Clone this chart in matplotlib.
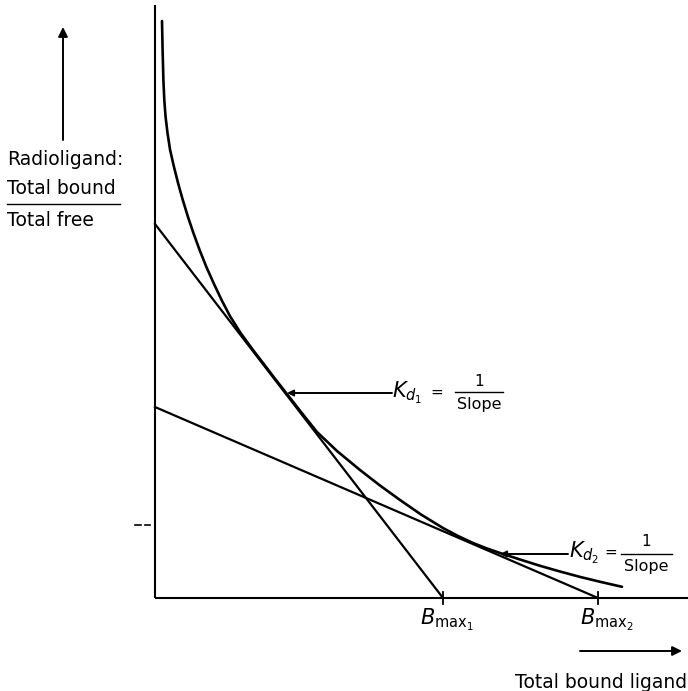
import matplotlib
matplotlib.use("Agg")
import matplotlib.pyplot as plt

plt.rcParams['font.family'] = ['DejaVu Sans']
plt.rcParams['mathtext.fontset'] = 'dejavusans'

# ---- data (arbitrary units: bound ligand vs bound/free) ----
bmax1 = 2.88          # x-intercept of high-affinity line
bmax2 = 4.43          # x-intercept of low-affinity line
intercept1 = 3.74     # y-intercept of high-affinity line
intercept2 = 1.91     # y-intercept of low-affinity line
line1_x = [0.0, bmax1]
line1_y = [intercept1, 0.0]
line2_x = [0.0, bmax2]
line2_y = [intercept2, 0.0]

curve_x = [0.070, 0.076, 0.084, 0.093, 0.106, 0.125, 0.151, 0.190, 0.233, 0.278,
           0.330, 0.384, 0.446, 0.514, 0.590, 0.666, 0.749, 0.856, 0.980, 1.103,
           1.210, 1.312, 1.468, 1.620, 1.82, 2.05, 2.25, 2.45, 2.66, 2.88,
           3.03, 3.18, 3.32, 3.45, 3.65, 3.85, 4.05, 4.25, 4.46, 4.67]
curve_y = [5.77, 5.48, 5.18, 4.98, 4.81, 4.65, 4.48, 4.31, 4.14, 3.98,
           3.81, 3.65, 3.48, 3.31, 3.14, 2.98, 2.82, 2.65, 2.48, 2.32,
           2.18, 2.05, 1.85, 1.66, 1.47, 1.28, 1.125, 0.98, 0.835, 0.70,
           0.62, 0.55, 0.495, 0.45, 0.385, 0.322, 0.265, 0.211, 0.16, 0.112]

kd1_point = (1.32, 2.05)
kd2_point = (3.45, 0.44)

y_axis_top = 5.93
x_axis_right = 5.33

fig = plt.figure(figsize=(6.88, 6.91), dpi=100)
ax = fig.add_axes([0, 0, 1, 1])
ax.set_xlim(-1.55, 5.33)
ax.set_ylim(-0.93, 5.98)
ax.axis('off')

lw = 1.5
# axes
ax.plot([0, 0], [0, y_axis_top], color='black', lw=lw, solid_capstyle='butt')
ax.plot([0, x_axis_right], [0, 0], color='black', lw=lw, solid_capstyle='butt')

# binding curve
ax.plot(curve_x, curve_y, color='black', lw=1.9, solid_joinstyle='round',
        solid_capstyle='round')

# component lines
ax.plot(line1_x, line1_y, color='black', lw=1.6)
ax.plot(line2_x, line2_y, color='black', lw=1.6)

# Bmax ticks
for b in (bmax1, bmax2):
    ax.plot([b, b], [-0.06, 0.06], color='black', lw=1.3)

# small stray tick marks on left of y axis
ax.plot([-0.20, -0.14], [0.73, 0.73], color='black', lw=1.2)
ax.plot([-0.10, -0.05], [0.73, 0.73], color='black', lw=1.2)

arrow_kw = dict(arrowstyle='-|>', color='black', lw=1.4, mutation_scale=9,
                shrinkA=0, shrinkB=0)
fs = 13.5
# Kd1 label
ax.annotate('', xy=kd1_point, xytext=(2.37, 2.05), arrowprops=arrow_kw)
ax.text(2.37, 2.05, r'$K_{d_1}$', fontsize=15, ha='left', va='center')
ax.text(2.82, 2.06, '=', fontsize=11, ha='center', va='center')
ax.text(3.24, 2.17, '1', fontsize=11, ha='center', va='center')
ax.plot([3.00, 3.48], [2.06, 2.06], color='black', lw=1.0)
ax.text(3.24, 1.93, 'Slope', fontsize=11.5, ha='center', va='center')

# Kd2 label
ax.annotate('', xy=kd2_point, xytext=(4.13, 0.44), arrowprops=arrow_kw)
ax.text(4.14, 0.45, r'$K_{d_2}$', fontsize=15, ha='left', va='center')
ax.text(4.56, 0.46, '=', fontsize=11, ha='center', va='center')
ax.text(4.91, 0.56, '1', fontsize=11, ha='center', va='center')
ax.plot([4.66, 5.17], [0.44, 0.44], color='black', lw=1.0)
ax.text(4.91, 0.31, 'Slope', fontsize=11.5, ha='center', va='center')

# Bmax labels
ax.text(bmax1 + 0.04, -0.22, r'$B_{\mathrm{max}_1}$', fontsize=15, ha='center', va='center')
ax.text(bmax2 + 0.09, -0.22, r'$B_{\mathrm{max}_2}$', fontsize=15, ha='center', va='center')

# x direction arrow and label
ax.annotate('', xy=(5.27, -0.53), xytext=(4.25, -0.53),
            arrowprops=dict(arrowstyle='-|>', color='black', lw=1.4,
                            mutation_scale=14, shrinkA=0, shrinkB=0))
ax.text(5.32, -0.84, 'Total bound ligand', fontsize=fs, ha='right', va='center')

# y direction arrow and labels
ax.annotate('', xy=(-0.92, 5.71), xytext=(-0.92, 4.58),
            arrowprops=dict(arrowstyle='-|>', color='black', lw=1.4,
                            mutation_scale=14, shrinkA=0, shrinkB=0))
ax.text(-1.48, 4.39, 'Radioligand:', fontsize=fs, ha='left', va='center')
ax.text(-1.48, 4.09, 'Total bound', fontsize=fs, ha='left', va='center')
ax.plot([-1.48, -0.35], [3.94, 3.94], color='black', lw=1.0)
ax.text(-1.48, 3.78, 'Total free', fontsize=fs, ha='left', va='center')

fig.savefig('out.png', dpi=100, facecolor='white')
